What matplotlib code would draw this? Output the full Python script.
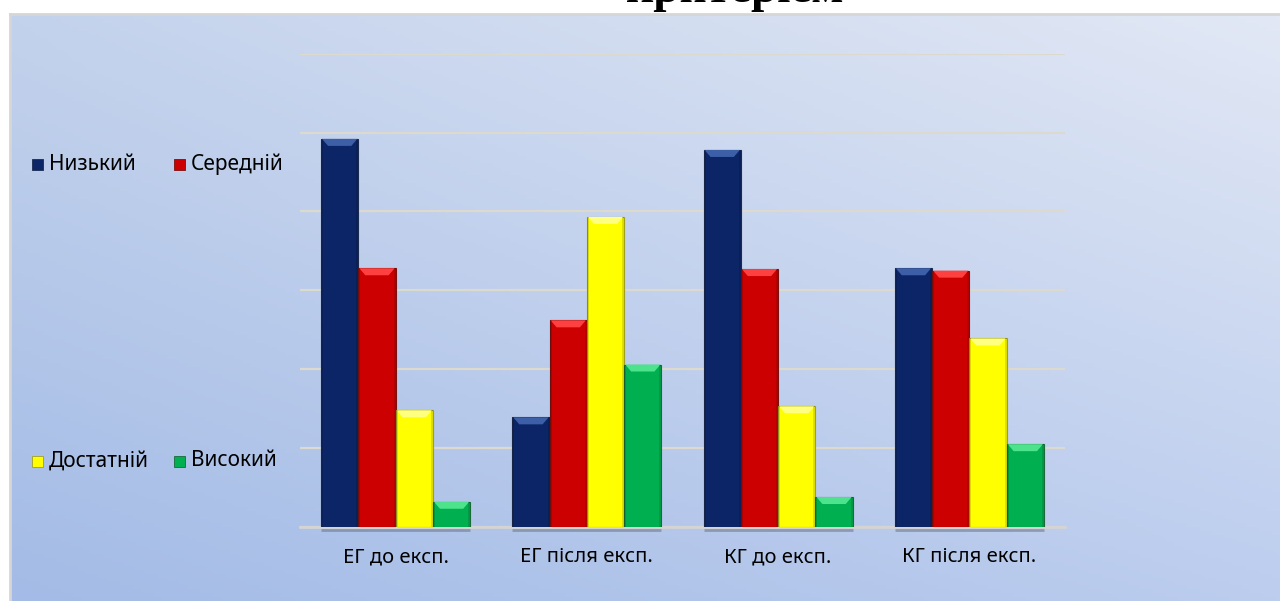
import numpy as np
import matplotlib
matplotlib.use("Agg")
import matplotlib.pyplot as plt
from matplotlib.patches import Rectangle, Polygon
from matplotlib.lines import Line2D

plt.rcParams['font.family'] = ['Noto Sans', 'DejaVu Sans']

# дані: рівні сформованості за групами (%)
groups = ['ЕГ до експ.', 'ЕГ після експ.', 'КГ до експ.', 'КГ після експ.']
levels = ['Низький', 'Середній', 'Достатній', 'Високий']
nyzkyi = [49.2, 13.9, 47.8, 32.8]
serednii = [32.8, 26.2, 32.7, 32.5]
dostatnii = [14.8, 39.3, 15.3, 23.9]
vysokyi = [3.2, 20.6, 3.8, 10.5]
series = [nyzkyi, serednii, dostatnii, vysokyi]

colors = ['#0c2566', '#cc0000', '#ffff00', '#00b050']
tops = ['#3d5fa8', '#ff4040', '#ffff80', '#4ce38c']
edges = ['#1b2a50', '#7a1010', '#a0a020', '#1a6a3a']

W, H = 1280, 601
fig = plt.figure(figsize=(W / 100, H / 100), dpi=100)
fig.patch.set_facecolor('white')

# фон області діаграми з градієнтом
bg = fig.add_axes([10 / W, 0, 1 - 10 / W, (H - 15) / H])
bg.set_axis_off()
tl = np.array([0xc3, 0xd2, 0xec]) / 255
tr = np.array([0xe2, 0xe8, 0xf5]) / 255
bl = np.array([0xa3, 0xbb, 0xe6]) / 255
br = np.array([0xbc, 0xcd, 0xee]) / 255
u = np.linspace(0, 1, 300)[None, :, None]
v = np.linspace(0, 1, 150)[:, None, None]
grad = (1 - v) * ((1 - u) * tl + u * tr) + v * ((1 - u) * bl + u * br)
bg.imshow(grad, aspect='auto', extent=[0, 1, 0, 1])
bg.set_xlim(0, 1)
bg.set_ylim(0, 1)

# рамка області
fig.add_artist(Line2D([10 / W, 1], [(H - 14) / H] * 2, color='#d6d6d6', lw=2))
fig.add_artist(Line2D([10 / W] * 2, [0, (H - 14) / H], color='#d6d6d6', lw=2))

# заголовок (видно лише нижню частину)
fig.text(735 / W, 1 - 1.5 / H, 'критеріем', ha='center', va='baseline',
         fontsize=34, fontweight='bold', family=['Liberation Serif', 'DejaVu Serif'])

ax_l, ax_r, ax_b, ax_t = 300, 1065, 527, 53.7
ax = fig.add_axes([ax_l / W, (H - ax_b) / H, (ax_r - ax_l) / W, (ax_b - ax_t) / H])
ax.set_facecolor('none')
ax.set_xlim(-0.5, 3.5)
ax.set_ylim(0, 60)
ax.set_yticks(np.arange(0, 61, 10))
ax.yaxis.grid(True, color='#dcd9ce', lw=1.6)
ax.set_axisbelow(True)
ax.tick_params(axis='y', left=False, labelleft=False)
ax.tick_params(axis='x', bottom=False, pad=11, labelsize=14.5)
for s in ['top', 'right', 'left']:
    ax.spines[s].set_visible(False)
ax.spines['bottom'].set_color('#d4d4d4')
ax.spines['bottom'].set_linewidth(2)

x = np.arange(len(groups))
bw = 0.195
ax.set_xticks(x)
ax.set_xticklabels(groups)

# перерахунок пікселів у одиниці даних
px_x = 4.0 / (ax_r - ax_l)
px_y = 60.0 / (ax_b - ax_t)

for i, vals in enumerate(series):
    xs = x + (i - 1.5) * bw
    ax.bar(xs, vals, width=bw, color=colors[i], edgecolor=edges[i], lw=0.8, zorder=3)
    for xc, val in zip(xs, vals):
        x0, x1 = xc - bw / 2, xc + bw / 2
        bh = min(7 * px_y, val * 0.5)
        ins = min(7 * px_x, bw / 3)
        ax.add_patch(Polygon([[x0 + 1 * px_x, val], [x1 - 1 * px_x, val],
                              [x1 - ins, val - bh], [x0 + ins, val - bh]],
                             closed=True, facecolor=tops[i], edgecolor='none', zorder=4))
        # затемнення бічних граней
        ax.add_patch(Rectangle((x0, 0), 2 * px_x, val, facecolor='black', alpha=0.12,
                               edgecolor='none', zorder=4))
        ax.add_patch(Rectangle((x1 - 2 * px_x, 0), 2 * px_x, val, facecolor='black',
                               alpha=0.12, edgecolor='none', zorder=4))

# тінь під групами
for xc in x:
    ax.plot([xc - 2 * bw, xc + 2 * bw], [-0.35, -0.35], color='#6f7a8c', lw=2,
            alpha=0.6, solid_capstyle='butt', clip_on=False, zorder=2)

# легенда у два рядки
legend_rows = [(164, [0, 1]), (461, [2, 3])]
for yc, idx in legend_rows:
    for k, i in enumerate(idx):
        mx = 32 + k * 142
        fig.add_artist(Rectangle((mx / W, (H - yc - 5.5) / H), 11 / W, 11 / H,
                                 facecolor=colors[i], edgecolor=edges[i], lw=0.6,
                                 transform=fig.transFigure))
        fig.text((mx + 17) / W, (H - yc) / H, levels[i], ha='left', va='center',
                 fontsize=15)

fig.savefig('out.png', dpi=100)
